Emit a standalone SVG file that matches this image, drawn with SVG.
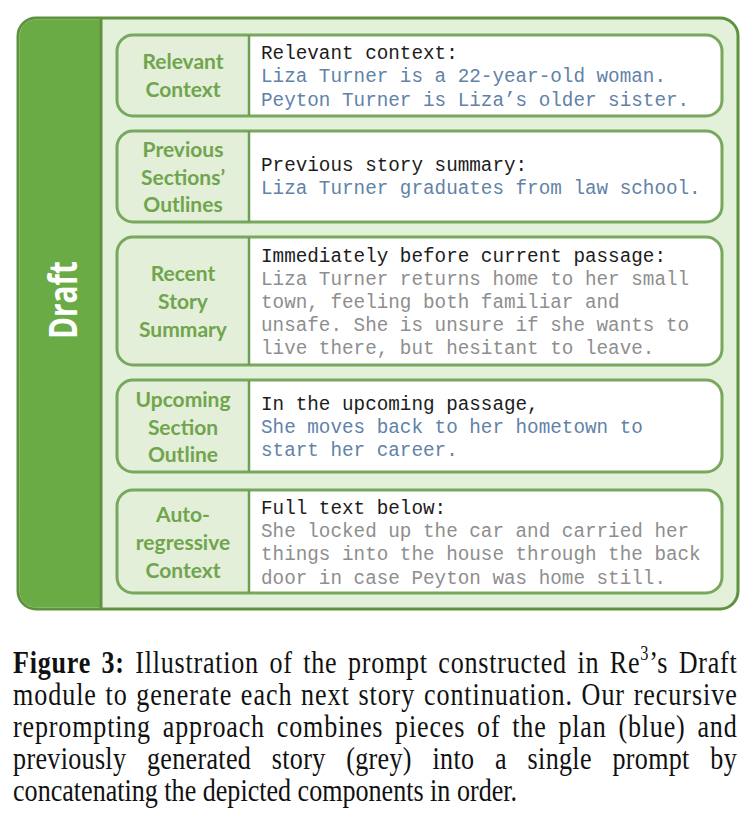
<svg xmlns="http://www.w3.org/2000/svg" width="747" height="819" viewBox="0 0 747 819">
<style>
.frame{fill:#e3f0da;stroke:#5f913f;stroke-width:3}
.band{fill:#6aab45}
.bandline{stroke:#5f913f;stroke-width:3}
.lcell{fill:#e3efd9}
.rcell{fill:#ffffff}
.outline{fill:none;stroke:#78a85d;stroke-width:3}
.div{stroke:#6f9f52;stroke-width:2.5}
.lab{font-family:Lato,"Open Sans",sans-serif;font-weight:bold;font-size:21px;fill:#70a54d;text-anchor:middle}
.mono{font-family:"Liberation Mono","Courier New",monospace;font-size:19.3px}
.hd{fill:#1c1c1c}
.bl{fill:#6282a8}
.gr{fill:#8e8e8e}
.cap{font-family:"Liberation Serif","Times New Roman",serif;font-size:32px;fill:#111}
</style>
<g id="frame">
<rect class="frame" x="18" y="18" width="720" height="591" rx="18"/>
<path class="band" d="M101,19.5 H36 A16.5,16.5 0 0 0 19.5,36 V591 A16.5,16.5 0 0 0 36,607.5 H101 Z"/>
<line class="bandline" x1="101" y1="18" x2="101" y2="609"/>
<text transform="translate(77,300) rotate(-90)" text-anchor="middle" font-family="'Open Sans',Lato,sans-serif" font-weight="bold" font-size="40" fill="#ffffff" textLength="78" lengthAdjust="spacingAndGlyphs">Draft</text>
</g>
<g id="row1">
<path class="lcell" d="M249,35 H133 A16,16 0 0 0 117,51 V100 A16,16 0 0 0 133,116 H249 Z"/>
<path class="rcell" d="M249,35 H706 A16,16 0 0 1 722,51 V100 A16,16 0 0 1 706,116 H249 Z"/>
<rect class="outline" x="117" y="35" width="605" height="81" rx="16"/>
<line class="div" x1="249" y1="35" x2="249" y2="116"/>
<text class="lab"><tspan x="183" y="69">Relevant</tspan><tspan x="183" y="97">Context</tspan></text>
<text class="mono"><tspan class="hd" x="261" y="59">Relevant context:</tspan><tspan class="bl" x="261" y="82">Liza Turner is a 22-year-old woman.</tspan><tspan class="bl" x="261" y="106">Peyton Turner is Liza’s older sister.</tspan></text>
</g>
<g id="row2">
<path class="lcell" d="M249,131 H133 A16,16 0 0 0 117,147 V206 A16,16 0 0 0 133,222 H249 Z"/>
<path class="rcell" d="M249,131 H706 A16,16 0 0 1 722,147 V206 A16,16 0 0 1 706,222 H249 Z"/>
<rect class="outline" x="117" y="131" width="605" height="91" rx="16"/>
<line class="div" x1="249" y1="131" x2="249" y2="222"/>
<text class="lab"><tspan x="183" y="157">Previous</tspan><tspan x="183" y="185">Sections’</tspan><tspan x="183" y="212">Outlines</tspan></text>
<text class="mono"><tspan class="hd" x="261" y="171">Previous story summary:</tspan><tspan class="bl" x="261" y="194">Liza Turner graduates from law school.</tspan></text>
</g>
<g id="row3">
<path class="lcell" d="M249,237 H133 A16,16 0 0 0 117,253 V349 A16,16 0 0 0 133,365 H249 Z"/>
<path class="rcell" d="M249,237 H706 A16,16 0 0 1 722,253 V349 A16,16 0 0 1 706,365 H249 Z"/>
<rect class="outline" x="117" y="237" width="605" height="128" rx="16"/>
<line class="div" x1="249" y1="237" x2="249" y2="365"/>
<text class="lab"><tspan x="183" y="281">Recent</tspan><tspan x="183" y="309">Story</tspan><tspan x="183" y="337">Summary</tspan></text>
<text class="mono"><tspan class="hd" x="261" y="262">Immediately before current passage:</tspan><tspan class="gr" x="261" y="285">Liza Turner returns home to her small</tspan><tspan class="gr" x="261" y="308">town, feeling both familiar and</tspan><tspan class="gr" x="261" y="331">unsafe. She is unsure if she wants to</tspan><tspan class="gr" x="261" y="354">live there, but hesitant to leave.</tspan></text>
</g>
<g id="row4">
<path class="lcell" d="M249,380 H133 A16,16 0 0 0 117,396 V456 A16,16 0 0 0 133,472 H249 Z"/>
<path class="rcell" d="M249,380 H706 A16,16 0 0 1 722,396 V456 A16,16 0 0 1 706,472 H249 Z"/>
<rect class="outline" x="117" y="380" width="605" height="92" rx="16"/>
<line class="div" x1="249" y1="380" x2="249" y2="472"/>
<text class="lab"><tspan x="183" y="407">Upcoming</tspan><tspan x="183" y="435">Section</tspan><tspan x="183" y="462">Outline</tspan></text>
<text class="mono"><tspan class="hd" x="261" y="410">In the upcoming passage,</tspan><tspan class="bl" x="261" y="433">She moves back to her hometown to</tspan><tspan class="bl" x="261" y="456">start her career.</tspan></text>
</g>
<g id="row5">
<path class="lcell" d="M249,490 H133 A16,16 0 0 0 117,506 V577 A16,16 0 0 0 133,593 H249 Z"/>
<path class="rcell" d="M249,490 H706 A16,16 0 0 1 722,506 V577 A16,16 0 0 1 706,593 H249 Z"/>
<rect class="outline" x="117" y="490" width="605" height="103" rx="16"/>
<line class="div" x1="249" y1="490" x2="249" y2="593"/>
<text class="lab"><tspan x="183" y="522">Auto-</tspan><tspan x="183" y="550">regressive</tspan><tspan x="183" y="578">Context</tspan></text>
<text class="mono"><tspan class="hd" x="261" y="514">Full text below:</tspan><tspan class="gr" x="261" y="537">She locked up the car and carried her</tspan><tspan class="gr" x="261" y="560">things into the house through the back</tspan><tspan class="gr" x="261" y="584">door in case Peyton was home still.</tspan></text>
</g>
<g id="connectors"></g>
<g id="caption" transform="scale(0.815,1)">
<text class="cap" x="16" y="673" word-spacing="4" textLength="888" lengthAdjust="spacing"><tspan font-weight="bold">Figure 3:</tspan> Illustration of the prompt constructed in Re<tspan font-size="20" dy="-13">3</tspan><tspan dy="13">’s Draft</tspan></text>
<text class="cap" x="16" y="705" word-spacing="1.5" textLength="888" lengthAdjust="spacing">module to generate each next story continuation. Our recursive</text>
<text class="cap" x="16" y="737" word-spacing="5.5" textLength="888" lengthAdjust="spacing">reprompting approach combines pieces of the plan (blue) and</text>
<text class="cap" x="16" y="769" word-spacing="17" textLength="888" lengthAdjust="spacing">previously generated story (grey) into a single prompt by</text>
<text class="cap" x="16" y="801">concatenating the depicted components in order.</text>
</g>
</svg>
